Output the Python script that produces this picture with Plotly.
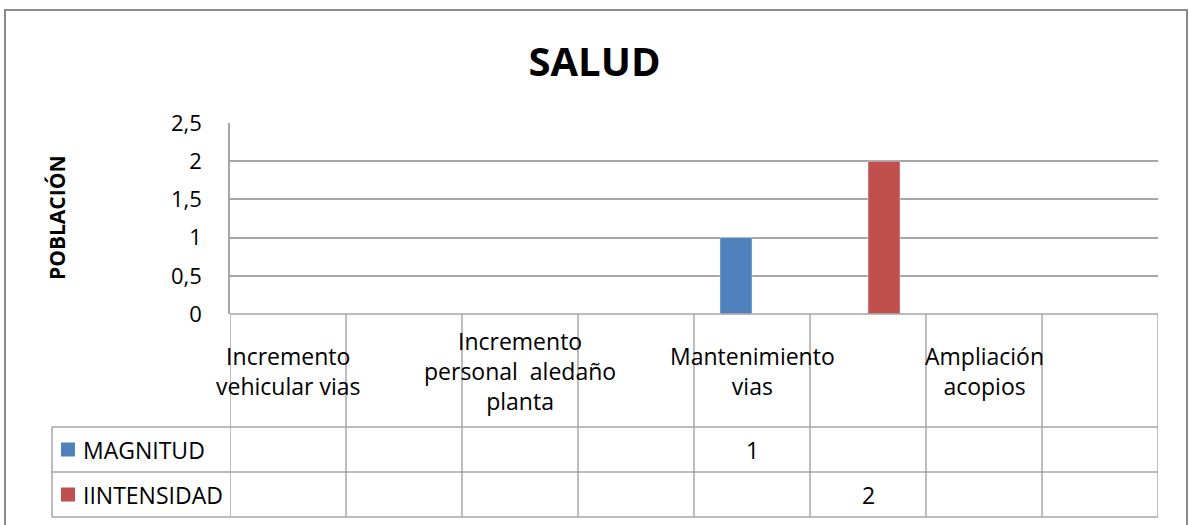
import plotly.graph_objects as go

# chart data
categories = [
    "Incremento<br>vehicular vias",
    "",
    "Incremento<br>personal  aledaño<br>planta",
    "",
    "Mantenimiento<br>vias",
    "",
    "Ampliación<br>acopios",
    "",
]
magnitud = [None, None, None, None, 1, None, None, None]
intensidad = [None, None, None, None, None, 2, None, None]
series_names = ["MAGNITUD", "IINTENSIDAD"]
series_colors = ["#4F81BD", "#C0504D"]
y_ticks = [0, 0.5, 1, 1.5, 2, 2.5]

FONT = "Open Sans"
GRID = "#A6A6A6"

W, H = 1189, 525
L, R, T, B = 230, 31, 123, 211
PW, PH = W - L - R, H - T - B


def px_x(px):
    # pixel column -> paper x
    return (px - L) / PW


def px_y(py):
    # pixel row -> paper y
    return (H - B - py) / PH


xs = list(range(len(categories)))

fig = go.Figure()
for name, vals, col in zip(series_names, [magnitud, intensidad], series_colors):
    fig.add_trace(go.Bar(x=xs, y=vals, name=name, marker_color=col, showlegend=False))

fig.update_layout(
    width=W,
    height=H,
    barmode="group",
    bargap=0.448,
    bargroupgap=0,
    separators=",.",
    paper_bgcolor="white",
    plot_bgcolor="white",
    margin=dict(l=L, r=R, t=T, b=B),
    font=dict(family=FONT, size=22, color="#000000"),
    title=dict(
        text="<b>SALUD</b>",
        x=0.5,
        xref="container",
        y=1 - 62 / H,
        yref="container",
        yanchor="middle",
        font=dict(family=FONT, size=40, color="#000000"),
    ),
)

fig.update_xaxes(
    range=[-0.5, len(categories) - 0.5],
    showticklabels=False,
    showgrid=False,
    zeroline=False,
    showline=False,
    fixedrange=True,
)
fig.update_yaxes(
    range=[0, 2.5],
    tickvals=y_ticks,
    showgrid=True,
    gridcolor=GRID,
    gridwidth=1.5,
    zeroline=False,
    showline=True,
    linecolor=GRID,
    linewidth=1.5,
    ticks="",
    ticklabelstandoff=22,
    tickfont=dict(family=FONT, size=22, color="#000000"),
)

shapes = []
annotations = []

# outer chart border
shapes.append(dict(type="rect", xref="paper", yref="paper",
                   x0=px_x(5), x1=px_x(1187), y0=px_y(540), y1=px_y(10),
                   line=dict(color="#8C8C8C", width=2), layer="below"))

# data table grid
row_top, row_mag, row_int, row_bot = 314, 427, 472, 517
for i in range(len(categories) + 1):
    shapes.append(dict(type="line", xref="x", yref="paper",
                       x0=i - 0.5, x1=i - 0.5, y0=px_y(row_bot), y1=px_y(row_top),
                       line=dict(color=GRID, width=1.5)))
shapes.append(dict(type="line", xref="paper", yref="paper",
                   x0=0, x1=1, y0=px_y(row_top), y1=px_y(row_top),
                   line=dict(color=GRID, width=1.5)))
for yy in [row_mag, row_int, row_bot]:
    shapes.append(dict(type="line", xref="paper", yref="paper",
                       x0=px_x(52), x1=1, y0=px_y(yy), y1=px_y(yy),
                       line=dict(color=GRID, width=1.5)))
shapes.append(dict(type="line", xref="paper", yref="paper",
                   x0=px_x(52), x1=px_x(52), y0=px_y(row_bot), y1=px_y(row_mag),
                   line=dict(color=GRID, width=1.5)))

# category labels
for i, cat in enumerate(categories):
    if cat:
        annotations.append(dict(x=i, y=px_y((row_top + row_mag) / 2), xref="x", yref="paper",
                                text=cat, showarrow=False, xanchor="center", yanchor="middle",
                                font=dict(family=FONT, size=23, color="#000000")))

# legend keys and values in the table
for vals, name, col, (r0, r1) in zip([magnitud, intensidad], series_names, series_colors,
                                      [(row_mag, row_int), (row_int, row_bot)]):
    yc = (r0 + r1) / 2
    shapes.append(dict(type="rect", xref="paper", yref="paper",
                       x0=px_x(61), x1=px_x(75), y0=px_y(yc + 7), y1=px_y(yc - 7),
                       fillcolor=col, line=dict(width=0)))
    annotations.append(dict(x=px_x(81), y=px_y(yc), xref="paper", yref="paper",
                            text=name, showarrow=False, xanchor="left", yanchor="middle",
                            font=dict(family=FONT, size=23, color="#000000")))
    for i, v in enumerate(vals):
        if v is not None:
            annotations.append(dict(x=i, y=px_y(yc), xref="x", yref="paper",
                                    text=f"{v:g}", showarrow=False, xanchor="center",
                                    yanchor="middle",
                                    font=dict(family=FONT, size=23, color="#000000")))

# y axis title
annotations.append(dict(x=px_x(57), y=px_y(218), xref="paper", yref="paper",
                        text="<b>POBLACIÓN</b>", textangle=-90, showarrow=False,
                        xanchor="center", yanchor="middle",
                        font=dict(family=FONT, size=21, color="#000000")))

fig.update_layout(shapes=shapes, annotations=annotations)

# page body has a default margin; drop it so the figure sits at the window's corner
fig.write_html(
    "out.html",
    config={"displayModeBar": False},
    post_script="document.body.style.margin='0px';",
)
